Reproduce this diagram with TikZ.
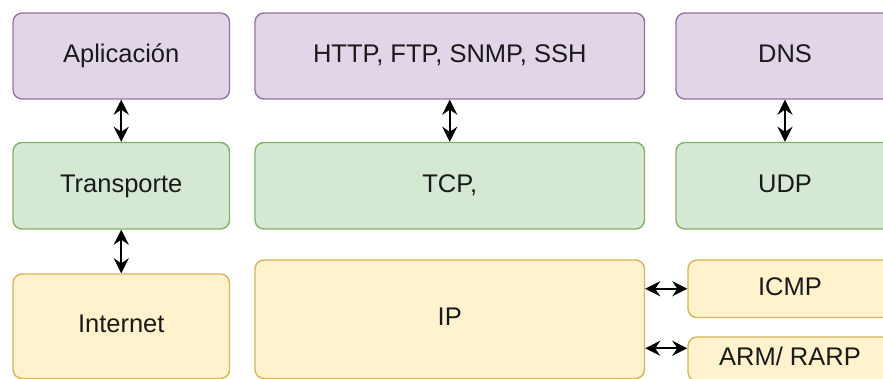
\documentclass[tikz,border=0pt]{standalone}
\usepackage{fontspec}
\setmainfont{Liberation Sans}
\usetikzlibrary{arrows.meta}

\definecolor{appfill}{HTML}{E1D5E7}
\definecolor{appline}{HTML}{9673A6}
\definecolor{trfill}{HTML}{D5E8D4}
\definecolor{trline}{HTML}{82B366}
\definecolor{netfill}{HTML}{FFF2CC}
\definecolor{netline}{HTML}{D6B656}
\definecolor{labeltext}{HTML}{1A1A1A}

\tikzset{
  layerbox/.style={draw, rounded corners=9pt, line width=1.4pt, inner sep=0pt,
    text=labeltext, font=\fontsize{25.5}{30}\selectfont,
    text height=18pt, text depth=5pt},
  applayer/.style={layerbox, fill=appfill, draw=appline},
  trlayer/.style={layerbox, fill=trfill, draw=trline},
  netlayer/.style={layerbox, fill=netfill, draw=netline},
  biarrow/.style={line width=2pt, {Stealth[length=15pt,width=15pt,inset=5pt]}-{Stealth[length=15pt,width=15pt,inset=5pt]}}
}

\begin{document}
\begin{tikzpicture}[x=1pt,y=-1pt]
\useasboundingbox (0,0) rectangle (883,379);
\clip (0,0) rectangle (883,379);
\fill[white] (0,0) rectangle (883,379);

% application layer
\node[applayer, minimum width=216.5pt, minimum height=86pt] (app) at (121.25,56) {Aplicación};
\node[applayer, minimum width=389.5pt, minimum height=86pt] (appproto) at (449.75,56) {HTTP, FTP, SNMP, SSH};
\node[applayer, minimum width=218pt, minimum height=86pt] (dns) at (785,56) {DNS};

% transport layer
\node[trlayer, minimum width=216.5pt, minimum height=86.5pt] (trans) at (121.25,185.75) {Transporte};
\node[trlayer, minimum width=389.5pt, minimum height=86.5pt] (tcp) at (449.75,185.75) {TCP,};
\node[trlayer, minimum width=218pt, minimum height=86.5pt] (udp) at (785,185.75) {UDP};

% internet layer
\node[netlayer, minimum width=216.5pt, minimum height=104.5pt] (inet) at (121.25,326.25) {Internet};
\node[netlayer, minimum width=389.5pt, minimum height=118.5pt] (ip) at (449.75,319.25) {IP};
\node[netlayer, minimum width=204pt, minimum height=57.5pt] (icmp) at (790,288.75) {ICMP};
\node[netlayer, minimum width=204pt, minimum height=44pt] (arp) at (790,359) {ARM/ RARP};

% links between layers
\draw[biarrow] (app.south) -- (trans.north);
\draw[biarrow] (appproto.south) -- (tcp.north);
\draw[biarrow] (dns.south) -- (udp.north);
\draw[biarrow] (trans.south) -- (inet.north);
\draw[biarrow] (ip.east |- icmp.west) -- (icmp.west);
\coordinate (arpin) at ([yshift=-12pt]arp.north west);
\draw[biarrow] (ip.east |- arpin) -- (arpin);
\end{tikzpicture}
\end{document}
